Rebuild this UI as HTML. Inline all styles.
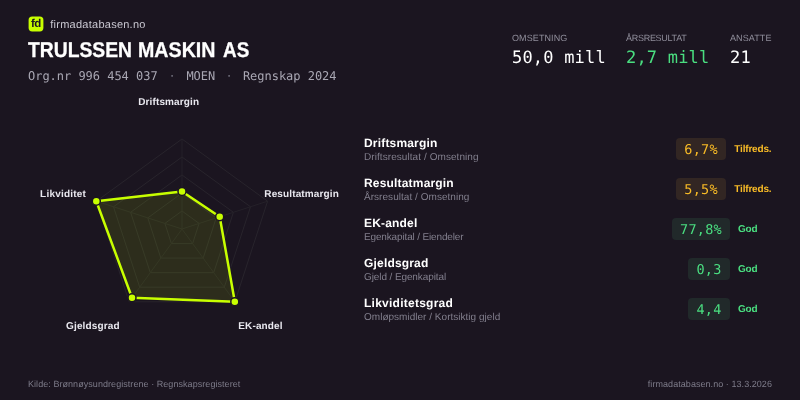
<!DOCTYPE html>
<html lang="no">
<head>
<meta charset="utf-8">
<title>TRULSSEN MASKIN AS – firmadatabasen.no</title>
<style>
*{margin:0;padding:0;box-sizing:border-box}
html,body{width:800px;height:400px;overflow:hidden;background:#1b1520}
body{position:relative;font-family:"Liberation Sans",sans-serif;color:#fff;text-rendering:geometricPrecision}
.abs{position:absolute;white-space:nowrap;line-height:1}
.mono{font-family:"DejaVu Sans Mono","Liberation Mono",monospace}
#brand{left:50.3px;top:20px;font-size:11px;letter-spacing:.25px;color:#c9c7d1}
#title{left:0;top:40.1px;width:300px;height:21.3px;font-size:21.3px;font-weight:700;color:#fff}
#title span{position:absolute;top:0;transform-origin:0 0;-webkit-text-stroke:.3px #fff}
#org{left:28px;top:69.5px;font-size:12px;letter-spacing:-.025px;color:#a9a7b3}
#org span{display:inline-block}
#org .dot{width:28.8px;text-align:center;color:#6f6d7a;white-space:pre}
.stats{position:absolute;left:512px;top:33px;display:flex;gap:22px}
.stat:nth-child(1){width:92px}.stat:nth-child(2){width:82px}.stat:nth-child(3){width:42px}
.stat .lbl{font-size:9px;letter-spacing:.1px;color:#908e9b;line-height:10px;white-space:nowrap}
.stat .val{font-family:"DejaVu Sans Mono","Liberation Mono",monospace;font-size:17px;letter-spacing:.2px;line-height:20px;margin-top:5.4px;color:#fff;white-space:nowrap}
.stat .val.g{color:#4ade80}
.rl{font-size:10px;font-weight:700;color:#e9e8ef;letter-spacing:.13px}
.row{position:absolute;left:364px;right:28px;height:40px;display:flex;align-items:center}
.row .txt{flex:1}
.row .t{font-size:12px;font-weight:700;color:#fff;line-height:14px;letter-spacing:.18px;transform:translateY(.3px)}
.row .s{font-size:10px;color:#827f8d;line-height:12px;margin-top:1px;letter-spacing:.07px;transform:translateY(.75px)}
.badge{font-family:"DejaVu Sans Mono","Liberation Mono",monospace;font-size:13.5px;letter-spacing:.27px;height:22px;line-height:24.4px;padding:0 8px;border-radius:4px;overflow:hidden;min-width:42px;text-align:center}
.badge.a{background:#322623;color:#f8bb26}
.badge.g{background:#21292a;color:#4ade80}
.lab{margin-left:8px;min-width:34px;font-size:10px;font-weight:700;white-space:nowrap;letter-spacing:-.18px;position:relative;top:0px}
.lab.a{color:#f8bb26;margin-left:8.2px;margin-right:.6px}
.lab.g{color:#4ade80}
.foot{font-size:9px;color:#7d7b89;letter-spacing:.055px}
</style>
</head>
<body>
<svg class="abs" style="left:20px;top:10px" width="40" height="30" viewBox="20 10 40 30"><rect x="28.6" y="16.4" width="14.8" height="15" rx="3.6" fill="#c8ff00"/><text x="35.8" y="27.1" text-anchor="middle" font-family="Liberation Sans, sans-serif" font-weight="700" font-size="11.5" letter-spacing="-0.55" fill="#1b1520">fd</text></svg>
<div id="brand" class="abs">firmadatabasen.no</div>
<div id="title" class="abs"><span style="left:28.1px;transform:scaleX(0.9058)">TRULSSEN </span><span style="left:137.5px;transform:scaleX(0.9223)">MASKIN </span><span style="left:223px;transform:scaleX(0.8862)">AS</span></div>
<div id="org" class="abs mono"><span>Org.nr 996 454 037</span><span class="dot"> · </span><span>MOEN</span><span class="dot" style="width:27.7px"> · </span><span>Regnskap 2024</span></div>

<div class="stats">
  <div class="stat"><div class="lbl">OMSETNING</div><div class="val">50,0 mill</div></div>
  <div class="stat"><div class="lbl" style="letter-spacing:-.28px">ÅRSRESULTAT</div><div class="val g">2,7 mill</div></div>
  <div class="stat"><div class="lbl">ANSATTE</div><div class="val">21</div></div>
</div>

<svg class="abs" style="left:0;top:80px" width="360" height="270" viewBox="0 80 360 270">
  <g fill="none" stroke="#28242c" stroke-width="1">
    <polygon points="182.0,139.0 267.6,201.2 234.9,301.8 129.1,301.8 96.4,201.2"/>
    <polygon points="182.0,157.0 250.5,206.8 224.3,287.2 139.7,287.2 113.5,206.8"/>
    <polygon points="182.0,175.0 233.4,212.3 213.7,272.7 150.3,272.7 130.6,212.3"/>
    <polygon points="182.0,193.0 216.2,217.9 203.2,258.1 160.8,258.1 147.8,217.9"/>
    <polygon points="182.0,211.0 199.1,223.4 192.6,243.6 171.4,243.6 164.9,223.4"/>
    <line x1="182" y1="229" x2="182.0" y2="139.0" stroke="#252129"/>
    <line x1="182" y1="229" x2="267.6" y2="201.2" stroke="#252129"/>
    <line x1="182" y1="229" x2="234.9" y2="301.8" stroke="#252129"/>
    <line x1="182" y1="229" x2="129.1" y2="301.8" stroke="#252129"/>
    <line x1="182" y1="229" x2="96.4" y2="201.2" stroke="#252129"/>
  </g>
  <polygon points="182.0,191.5 219.7,216.7 234.8,301.7 132.0,297.8 96.3,201.2" fill="#c8ff00" fill-opacity="0.105" stroke="#c8ff00" stroke-width="2.5" stroke-linejoin="round"/>
  <g fill="#c8ff00" stroke="#1b1520" stroke-width="1.5">
    <circle cx="182.0" cy="191.5" r="4"/>
    <circle cx="219.7" cy="216.7" r="4"/>
    <circle cx="234.8" cy="301.7" r="4"/>
    <circle cx="132.0" cy="297.8" r="4"/>
    <circle cx="96.3" cy="201.2" r="4"/>
  </g>
</svg>

<div class="abs rl" id="l1" style="left:138.2px;top:98px">Driftsmargin</div>
<div class="abs rl" id="l2" style="left:264.3px;top:190px">Resultatmargin</div>
<div class="abs rl" id="l3" style="left:238.3px;top:322px">EK-andel</div>
<div class="abs rl" id="l4" style="left:66.1px;top:322px">Gjeldsgrad</div>
<div class="abs rl" id="l5" style="left:40.1px;letter-spacing:.2px;top:190px">Likviditet</div>

<div class="row" style="top:129px"><div class="txt"><div class="t">Driftsmargin</div><div class="s">Driftsresultat / Omsetning</div></div><div class="badge a" style="min-width:50px">6,7%</div><div class="lab a">Tilfreds.</div></div>
<div class="row" style="top:169px"><div class="txt"><div class="t">Resultatmargin</div><div class="s" style="letter-spacing:.04px">Årsresultat / Omsetning</div></div><div class="badge a" style="min-width:50px">5,5%</div><div class="lab a">Tilfreds.</div></div>
<div class="row" style="top:209px"><div class="txt"><div class="t">EK-andel</div><div class="s" style="letter-spacing:-.15px">Egenkapital / Eiendeler</div></div><div class="badge g" style="min-width:58px">77,8%</div><div class="lab g">God</div></div>
<div class="row" style="top:249px"><div class="txt"><div class="t">Gjeldsgrad</div><div class="s" style="letter-spacing:-.1px">Gjeld / Egenkapital</div></div><div class="badge g">0,3</div><div class="lab g">God</div></div>
<div class="row" style="top:289px"><div class="txt"><div class="t" style="letter-spacing:.25px">Likviditetsgrad</div><div class="s" style="letter-spacing:.02px">Omløpsmidler / Kortsiktig gjeld</div></div><div class="badge g">4,4</div><div class="lab g">God</div></div>

<div class="abs foot" id="f1" style="left:28px;top:380px">Kilde: Brønnøysundregistrene · Regnskapsregisteret</div>
<div class="abs foot" id="f2" style="right:28px;top:380px">firmadatabasen.no · 13.3.2026</div>
</body>
</html>
